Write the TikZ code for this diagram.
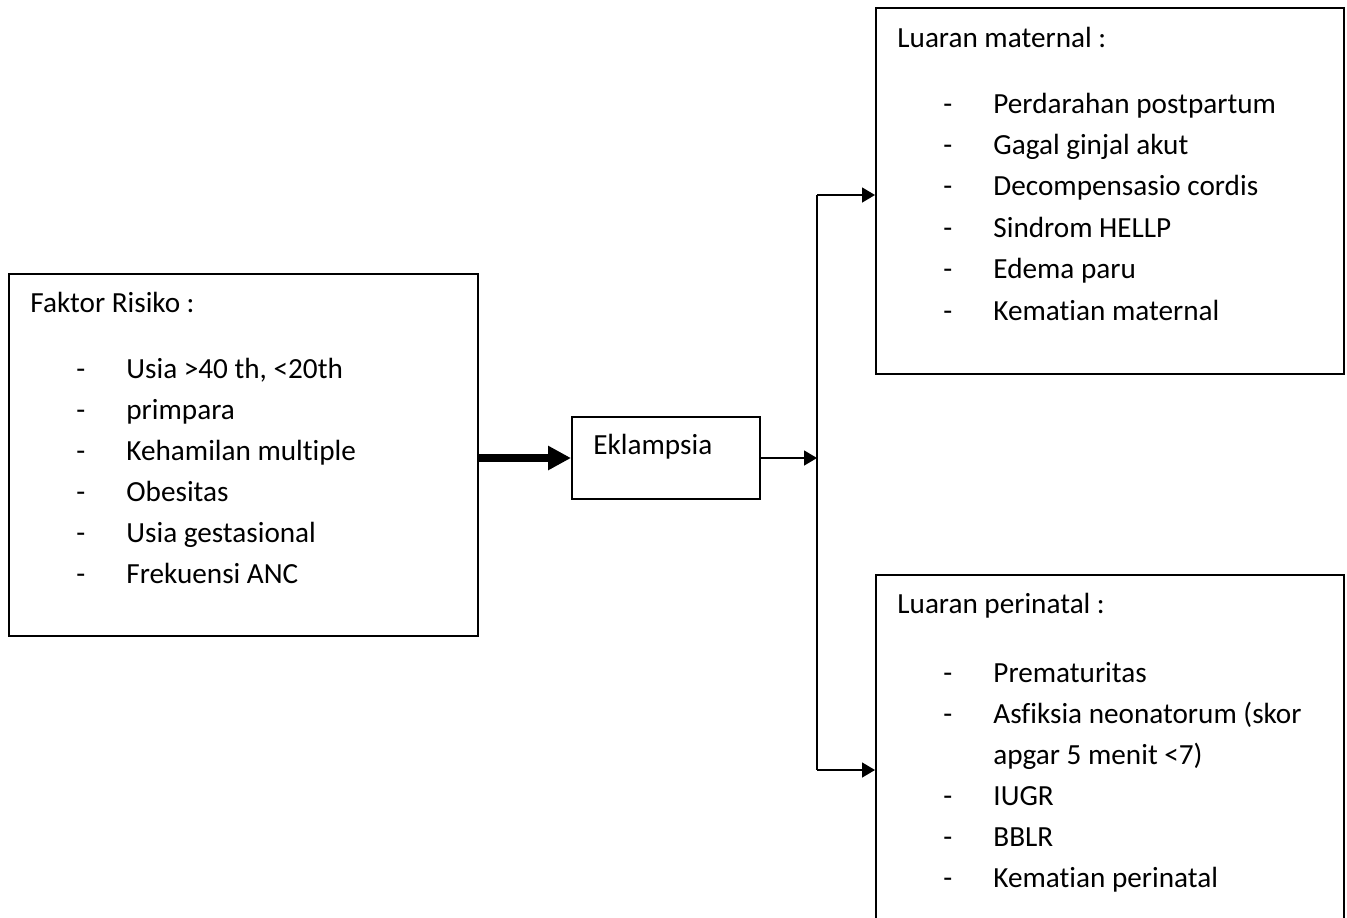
\documentclass[tikz,border=0pt]{standalone}
\usepackage{fontspec}
\setmainfont{Carlito}[Ligatures=CommonOff]
\usetikzlibrary{arrows.meta}
\begin{document}
\begin{tikzpicture}[x=0.5pt,y=-0.5pt,font=\fontsize{14.6}{17}\selectfont,
	box/.style={draw,line width=1pt,anchor=north west,inner sep=0pt},
	txt/.style={anchor=base west,inner sep=0pt},
	link/.style={line width=0.75pt,-{Triangle[length=6.5pt,width=7.5pt]}},
	heavy/.style={line width=3.6pt,-{Triangle[length=11.5pt,width=11.5pt]}}]
	\useasboundingbox (0,0) rectangle (1347,917);
	\clip (0,0) rectangle (1347,917);
	\node[box,minimum width=234.5pt,minimum height=181pt] (risk) at (8,273) {};
	\node[box,minimum width=94pt,minimum height=41pt] (ekl) at (571,416) {};
	\node[box,minimum width=234pt,minimum height=183pt] (mat) at (875,7) {};
	\node[box,minimum width=234pt,minimum height=183pt] (peri) at (875,574) {};
	\path (817,195) coordinate (up) (817,770) coordinate (dn);
	% titles
	\node[txt] (risk-t) at (30,312) {Faktor Risiko :};
	\node[txt] (ekl-t) at (593,454) {Eklampsia};
	\node[txt] (mat-t) at (897,47) {Luaran maternal :};
	\node[txt] (peri-t) at (897,613) {Luaran perinatal :};
	% lists
	\foreach \s [count=\i from 0] in {{Usia >40 th, <20th},primpara,Kehamilan multiple,Obesitas,Usia gestasional,Frekuensi ANC}{
		\node[txt] (risk-d\i) at (76,378+41*\i) {-};
		\node[txt] (risk-\i) at (126,378+41*\i) {\s};
	}
	\foreach \s [count=\i from 0] in {Perdarahan postpartum,Gagal ginjal akut,Decompensasio cordis,Sindrom HELLP,Edema paru,Kematian maternal}{
		\node[txt] (mat-d\i) at (943,113+41.4*\i) {-};
		\node[txt] (mat-\i) at (993,113+41.4*\i) {\s};
	}
	\foreach \d/\s [count=\i from 0] in {-/Prematuritas,-/{Asfiksia neonatorum (skor},{}/{apgar 5 menit <7)},-/IUGR,-/BBLR,-/Kematian perinatal}{
		\node[txt] (peri-d\i) at (943,682+41*\i) {\d};
		\node[txt] (peri-\i) at (993,682+41*\i) {\s};
	}
	% connectors
	\draw[heavy] (risk.east |- ekl.west) -- (ekl.west);
	\draw[link] (ekl.east) -- (ekl.east -| up);
	\draw[line width=0.75pt] (up) -- (dn);
	\draw[link] (up) -- (up -| mat.west);
	\draw[link] (dn) -- (dn -| peri.west);
\end{tikzpicture}
\end{document}
